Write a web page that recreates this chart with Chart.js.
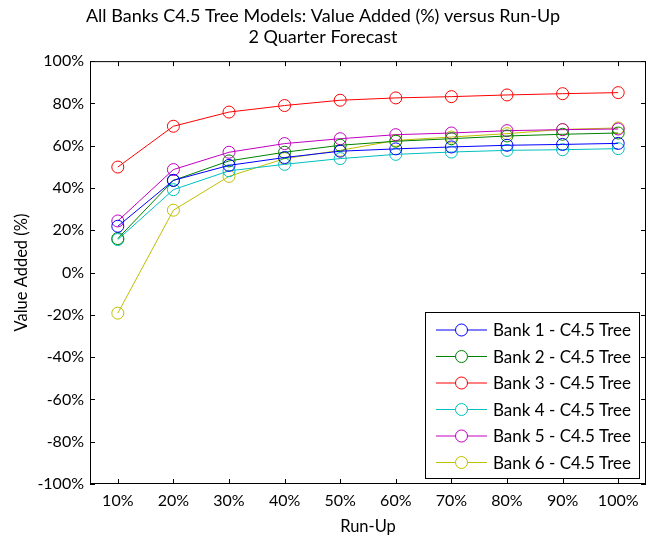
<!DOCTYPE html>
<html>
<head>
<meta charset="utf-8">
<script src="https://cdn.jsdelivr.net/npm/chart.js@4.4.0/dist/chart.umd.min.js"></script>
<style>
  body { margin: 0; background: #fff; }
  canvas { display: block; }
</style>
</head>
<body>
<canvas id="chart" width="646" height="537"></canvas>
<script>
// Data
const runUp = ['10%', '20%', '30%', '40%', '50%', '60%', '70%', '80%', '90%', '100%'];
const bankNames = ['Bank 1 - C4.5 Tree', 'Bank 2 - C4.5 Tree', 'Bank 3 - C4.5 Tree',
                   'Bank 4 - C4.5 Tree', 'Bank 5 - C4.5 Tree', 'Bank 6 - C4.5 Tree'];
const bank1 = [21.9, 43.6, 50.7, 54.4, 57.4, 58.5, 59.4, 60.2, 60.6, 61.1];
const bank2 = [16.1, 43.6, 52.8, 56.9, 60.2, 62.1, 63.3, 64.6, 65.4, 66.0];
const bank3 = [49.9, 69.2, 75.9, 79.0, 81.5, 82.6, 83.2, 84.0, 84.6, 85.1];
const bank4 = [15.6, 39.2, 48.1, 51.2, 53.9, 55.9, 57.0, 57.8, 58.1, 58.6];
const bank5 = [24.4, 48.7, 56.9, 61.0, 63.3, 65.2, 66.0, 67.1, 67.6, 67.9];
const bank6 = [-19.2, 29.5, 45.5, 53.9, 57.8, 62.5, 64.1, 65.7, 67.7, 68.4];
const colors = ['#0000ff', '#008000', '#ff0000', '#00bfbf', '#bf00bf', '#bfbf00'];

const FONT = 'Lato, "Noto Sans", sans-serif';

// Box around the plot with inward ticks on all sides (MATLAB style)
const framePlugin = {
    id: 'frame',
    afterDraw(chart) {
        const { ctx, chartArea: a, scales } = chart;
        const tl = 5;
        ctx.save();
        ctx.strokeStyle = '#000';
        ctx.lineWidth = 1;
        ctx.strokeRect(a.left + 0.5, a.top + 0.5, a.right - a.left - 1, a.bottom - a.top - 1);
        ctx.beginPath();
        scales.x.ticks.forEach((t, i) => {
            const x = Math.round(scales.x.getPixelForTick(i)) + 0.5;
            ctx.moveTo(x, a.bottom); ctx.lineTo(x, a.bottom - tl);
            ctx.moveTo(x, a.top); ctx.lineTo(x, a.top + tl);
        });
        scales.y.ticks.forEach((t, i) => {
            const y = Math.round(scales.y.getPixelForTick(i)) + 0.5;
            ctx.moveTo(a.left, y); ctx.lineTo(a.left + tl, y);
            ctx.moveTo(a.right, y); ctx.lineTo(a.right - tl, y);
        });
        ctx.stroke();
        ctx.restore();
    }
};

// Legend box inside the plot, bottom right
const legendPlugin = {
    id: 'boxLegend',
    afterDraw(chart) {
        const { ctx, chartArea: a } = chart;
        const w = 214, h = 166;
        const x0 = a.right - 7 - w, y0 = a.bottom - 6 - h;
        ctx.save();
        ctx.fillStyle = '#fff';
        ctx.fillRect(x0, y0, w, h);
        ctx.strokeStyle = '#000';
        ctx.lineWidth = 1;
        ctx.strokeRect(Math.round(x0) + 0.5, Math.round(y0) + 0.5, w, h);
        ctx.font = '17px ' + FONT;
        ctx.textBaseline = 'middle';
        chart.data.datasets.forEach((ds, i) => {
            const y = y0 + 18 + i * 26.5;
            ctx.strokeStyle = ds.borderColor;
            ctx.beginPath();
            ctx.moveTo(x0 + 11, y); ctx.lineTo(x0 + 62, y);
            ctx.stroke();
            ctx.beginPath();
            ctx.arc(x0 + 36.5, y, 6, 0, Math.PI * 2);
            ctx.fillStyle = '#fff';
            ctx.fill();
            ctx.stroke();
            ctx.fillStyle = '#000';
            ctx.fillText(ds.label, x0 + 68, y + 1);
        });
        ctx.restore();
    }
};

const series = [bank1, bank2, bank3, bank4, bank5, bank6];

new Chart(document.getElementById('chart'), {
    type: 'line',
    data: {
        labels: runUp,
        datasets: series.map((d, i) => ({
            label: bankNames[i],
            data: d,
            borderColor: colors[i],
            backgroundColor: 'rgba(0,0,0,0)',
            borderWidth: 1,
            pointRadius: 6,
            pointBorderWidth: 1,
            pointBackgroundColor: 'rgba(0,0,0,0)',
            pointBorderColor: colors[i],
            tension: 0
        }))
    },
    options: {
        responsive: false,
        animation: false,
        layout: { padding: 0, autoPadding: false },
        plugins: {
            legend: { display: false },
            tooltip: { enabled: false },
            title: {
                display: true,
                text: ['All Banks C4.5 Tree Models: Value Added (%) versus Run-Up', '2 Quarter Forecast'],
                color: '#000',
                font: { family: FONT, size: 18, weight: 'normal', lineHeight: 1.17 },
                padding: { top: 6, bottom: 13 }
            }
        },
        scales: {
            x: {
                offset: true,
                grid: { display: false, drawTicks: false },
                border: { display: false },
                ticks: { color: '#000', padding: 7, maxRotation: 0, font: { family: FONT, size: 16 } },
                title: { display: true, text: 'Run-Up', color: '#000', padding: { top: 9, bottom: 0 },
                         font: { family: FONT, size: 16.5 } },
                afterFit(s) { s.height = 53; }
            },
            y: {
                min: -100,
                max: 100,
                grid: { display: false, drawTicks: false },
                border: { display: false },
                ticks: { stepSize: 20, color: '#000', padding: 6, font: { family: FONT, size: 16 },
                         callback: v => v + '%' },
                title: { display: true, text: 'Value Added (%)', color: '#000', padding: { top: 12, bottom: 0 },
                         font: { family: FONT, size: 16.5 } },
                afterFit(s) { s.width = 90; }
            }
        }
    },
    plugins: [framePlugin, legendPlugin]
});
</script>
</body>
</html>
